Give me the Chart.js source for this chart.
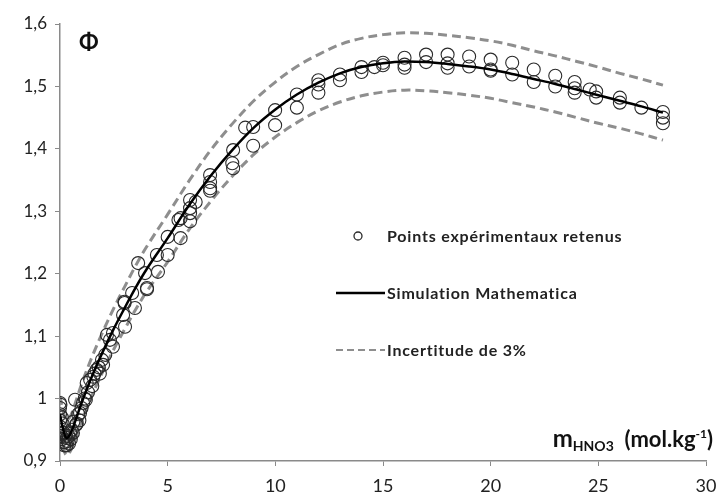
<!DOCTYPE html>
<html>
<head>
<meta charset="utf-8">
<script src="https://cdn.jsdelivr.net/npm/chart.js@4/dist/chart.umd.min.js"></script>
<style>
  html, body { margin: 0; padding: 0; background: #fff; }
  #wrap { width: 717px; height: 494px; }
</style>
</head>
<body>
<div id="wrap"><canvas id="chart" width="717" height="494"></canvas></div>
<script>
// measured points (x = molality, y = phi)
const expX = [0, 0, 0, 0, 0, 0, 0.02, 0.05, 0.08, 0.1, 0.12, 0.15, 0.18, 0.2, 0.23, 0.26, 0.3, 0.32, 0.35, 0.4,
  0.42, 0.46, 0.5, 0.55, 0.6, 0.62, 0.7, 0.75, 0.78, 0.85, 0.9, 0.93, 1.0, 1.07,
  1.15, 1.2, 1.24, 1.3, 1.4, 1.5, 1.55, 1.6, 1.7, 1.8, 1.85, 1.95, 2.0, 2.1, 2.18, 2.32, 2.46, 2.46,
  2.93, 3.0, 3.02, 3.0, 3.35, 3.48, 3.63, 3.95, 4.04, 4.04, 4.5, 4.55,
  5.0, 5.0, 5.5, 5.6, 5.6, 6.04, 6.04, 6.04, 6.04, 6.3, 6.97, 6.97, 6.97, 6.97,
  8.0, 8.04, 8.04, 8.6, 8.97, 8.97, 9.99, 9.99, 11, 11, 12, 12, 12, 13, 13,
  14, 14, 14.6, 15, 15, 16, 16, 16, 17, 17, 18, 18, 18, 19, 19, 20, 20, 20,
  21, 21, 22, 22, 23, 23, 23.9, 23.9, 23.9, 24.6, 24.9, 24.9, 26, 26, 27, 28, 28, 28];
const expY = [0.993, 0.985, 0.975, 0.965, 0.955, 0.945, 0.99, 0.94, 0.97, 0.935, 0.96, 0.93, 0.945, 0.925, 0.93, 0.94, 0.925, 0.937, 0.932, 0.94,
  0.928, 0.946, 0.935, 0.95, 0.945, 0.963, 0.998, 0.958, 0.96, 0.975, 0.965, 0.977, 0.985, 0.993,
  1.0, 0.998, 1.025, 1.01, 1.03, 1.02, 1.035, 1.04, 1.046, 1.05, 1.04, 1.062, 1.054, 1.07, 1.102, 1.094, 1.105, 1.083,
  1.134, 1.153, 1.115, 1.155, 1.169, 1.145, 1.217, 1.201, 1.177, 1.175, 1.23, 1.203,
  1.259, 1.23, 1.286, 1.257, 1.289, 1.318, 1.305, 1.297, 1.284, 1.315, 1.358, 1.347, 1.337, 1.333,
  1.377, 1.398, 1.369, 1.434, 1.435, 1.405, 1.462, 1.438, 1.487, 1.466, 1.51, 1.503, 1.49, 1.519, 1.51,
  1.531, 1.523, 1.531, 1.538, 1.534, 1.546, 1.535, 1.53, 1.551, 1.539, 1.551, 1.537, 1.53, 1.548, 1.532, 1.543, 1.527, 1.525,
  1.538, 1.519, 1.527, 1.507, 1.517, 1.5, 1.507, 1.497, 1.49, 1.495, 1.492, 1.482, 1.482, 1.474, 1.466, 1.459, 1.45, 1.441];

// model curve and its +/- 3 % band
const simX = [0, 0.15, 0.3, 0.5, 0.75, 1, 1.5, 2, 2.5, 3, 3.5, 4, 5, 6, 7, 8, 9, 10, 11, 12, 13, 14,
  15, 16, 17, 18, 19, 20, 21, 22, 23, 24, 25, 26, 27, 28];
const simY = [0.975, 0.95, 0.937, 0.945, 0.968, 0.993, 1.037, 1.076, 1.112, 1.145, 1.177, 1.206, 1.257, 1.31,
  1.357, 1.398, 1.434, 1.463, 1.487, 1.506, 1.521, 1.531, 1.537, 1.54, 1.539, 1.536, 1.532, 1.527, 1.52,
  1.512, 1.504, 1.495, 1.486, 1.477, 1.468, 1.458];
const upperY = [1.004, 0.979, 0.965, 0.973, 0.997, 1.023, 1.068, 1.108, 1.145, 1.179, 1.212, 1.242, 1.295, 1.349,
  1.398, 1.44, 1.477, 1.507, 1.532, 1.551, 1.567, 1.577, 1.583, 1.586, 1.585, 1.582, 1.578, 1.573, 1.566,
  1.557, 1.549, 1.54, 1.531, 1.521, 1.512, 1.502];
const lowerY = [0.946, 0.922, 0.909, 0.917, 0.939, 0.963, 1.006, 1.044, 1.079, 1.111, 1.142, 1.17, 1.219, 1.271,
  1.316, 1.356, 1.391, 1.419, 1.442, 1.461, 1.475, 1.485, 1.491, 1.494, 1.493, 1.49, 1.486, 1.481, 1.474,
  1.467, 1.459, 1.45, 1.441, 1.433, 1.424, 1.414];

const xTicks = [0, 5, 10, 15, 20, 25, 30];
const yTicks = [0.9, 1.0, 1.1, 1.2, 1.3, 1.4, 1.5, 1.6];

const labels = ['Points expérimentaux retenus', 'Simulation Mathematica', 'Incertitude de 3%'];

const pts = (xs, ys) => xs.map((x, i) => ({ x: x, y: ys[i] }));
const FONT = 'Lato, "Open Sans", sans-serif';

// Φ, axis title and the in-plot legend
const extras = {
  id: 'extras',
  afterDraw(chart) {
    const ctx = chart.ctx;
    const a = chart.chartArea;
    ctx.save();
    ctx.fillStyle = '#111';
    ctx.textBaseline = 'alphabetic';

    ctx.font = 'bold 23px ' + FONT;
    ctx.fillText('Φ', 79, 50);

    // m_HNO3 (mol.kg-1), right aligned just past the plot edge
    const parts = [
      { t: 'm', f: 'bold 24px ' + FONT, dy: 0 },
      { t: 'HNO3', f: 'bold 14px ' + FONT, dy: 4 },
      { t: '  (mol.kg', f: 'bold 22px ' + FONT, dy: 0 },
      { t: '-1', f: 'bold 12px ' + FONT, dy: -9 },
      { t: ')', f: 'bold 22px ' + FONT, dy: 0 }
    ];
    let w = 0;
    parts.forEach(p => { ctx.font = p.f; p.w = ctx.measureText(p.t).width; w += p.w; });
    let x = a.right + 7 - w;
    const base = 447;
    parts.forEach(p => { ctx.font = p.f; ctx.fillText(p.t, x, base + p.dy); x += p.w; });

    // legend
    const ds = chart.data.datasets;
    const lx = 336, tx = 387, rows = [236, 293, 350];
    ctx.font = 'bold 16px ' + FONT;
    ctx.letterSpacing = '0.8px';
    ctx.fillStyle = '#222';
    ctx.fillText(labels[0], tx, rows[0] + 6);
    ctx.fillText(labels[1], tx, rows[1] + 6);
    ctx.fillText(labels[2], tx, rows[2] + 6);
    ctx.letterSpacing = '0px';

    ctx.beginPath();
    ctx.arc(358, rows[0], 4, 0, Math.PI * 2);
    ctx.strokeStyle = ds[0].borderColor;
    ctx.lineWidth = 1.3;
    ctx.stroke();

    ctx.beginPath();
    ctx.moveTo(lx, rows[1]);
    ctx.lineTo(tx - 2, rows[1]);
    ctx.strokeStyle = ds[1].borderColor;
    ctx.lineWidth = ds[1].borderWidth;
    ctx.stroke();

    ctx.beginPath();
    ctx.setLineDash([7, 4]);
    ctx.moveTo(lx, rows[2]);
    ctx.lineTo(tx - 2, rows[2]);
    ctx.strokeStyle = ds[2].borderColor;
    ctx.lineWidth = 2;
    ctx.stroke();
    ctx.restore();
  }
};

const fmt = v => String(Number(v.toFixed(1))).replace('.', ',');

new Chart(document.getElementById('chart').getContext('2d'), {
  type: 'scatter',
  data: {
    datasets: [
      {
        label: labels[0],
        data: pts(expX, expY),
        pointStyle: 'circle',
        pointRadius: 6.5,
        pointBorderWidth: 1.1,
        borderColor: '#2a2a2a',
        backgroundColor: 'rgba(0,0,0,0)',
        order: 2
      },
      {
        label: labels[1],
        data: pts(simX, simY),
        showLine: true,
        borderColor: '#000',
        borderWidth: 2.5,
        pointRadius: 0,
        tension: 0.35,
        order: 1
      },
      {
        label: labels[2],
        data: pts(simX, upperY),
        showLine: true,
        borderColor: '#8e8e8e',
        borderWidth: 3,
        borderDash: [9, 5],
        pointRadius: 0,
        tension: 0.35,
        order: 3
      },
      {
        label: labels[2] + ' (bas)',
        data: pts(simX, lowerY),
        showLine: true,
        borderColor: '#8e8e8e',
        borderWidth: 3,
        borderDash: [9, 5],
        pointRadius: 0,
        tension: 0.35,
        order: 3
      }
    ]
  },
  options: {
    responsive: false,
    animation: false,
    layout: { padding: { top: 24, right: 11, left: 0, bottom: 0 } },
    plugins: {
      legend: { display: false },
      tooltip: { enabled: false }
    },
    scales: {
      x: {
        type: 'linear',
        min: 0,
        max: 30,
        afterBuildTicks: s => { s.ticks = xTicks.map(v => ({ value: v })); },
        afterFit: s => { s.height = 33; s.paddingRight = 0; s.paddingLeft = 0; },
        border: { color: '#8a8a8a', width: 1.5 },
        grid: { drawOnChartArea: false, drawTicks: true, tickLength: 5, color: '#8a8a8a' },
        ticks: { color: '#222', font: { family: FONT, size: 18 }, padding: 9 }
      },
      y: {
        type: 'linear',
        min: 0.9,
        max: 1.6,
        afterBuildTicks: s => { s.ticks = yTicks.map(v => ({ value: v })); },
        afterFit: s => { s.width = 60; s.paddingTop = 0; s.paddingBottom = 0; },
        border: { color: '#8a8a8a', width: 1.5 },
        grid: { drawOnChartArea: false, drawTicks: true, tickLength: 5, color: '#8a8a8a' },
        ticks: { color: '#222', font: { family: FONT, size: 17 }, padding: 8, callback: v => fmt(v) }
      }
    }
  },
  plugins: [extras]
});
</script>
</body>
</html>
